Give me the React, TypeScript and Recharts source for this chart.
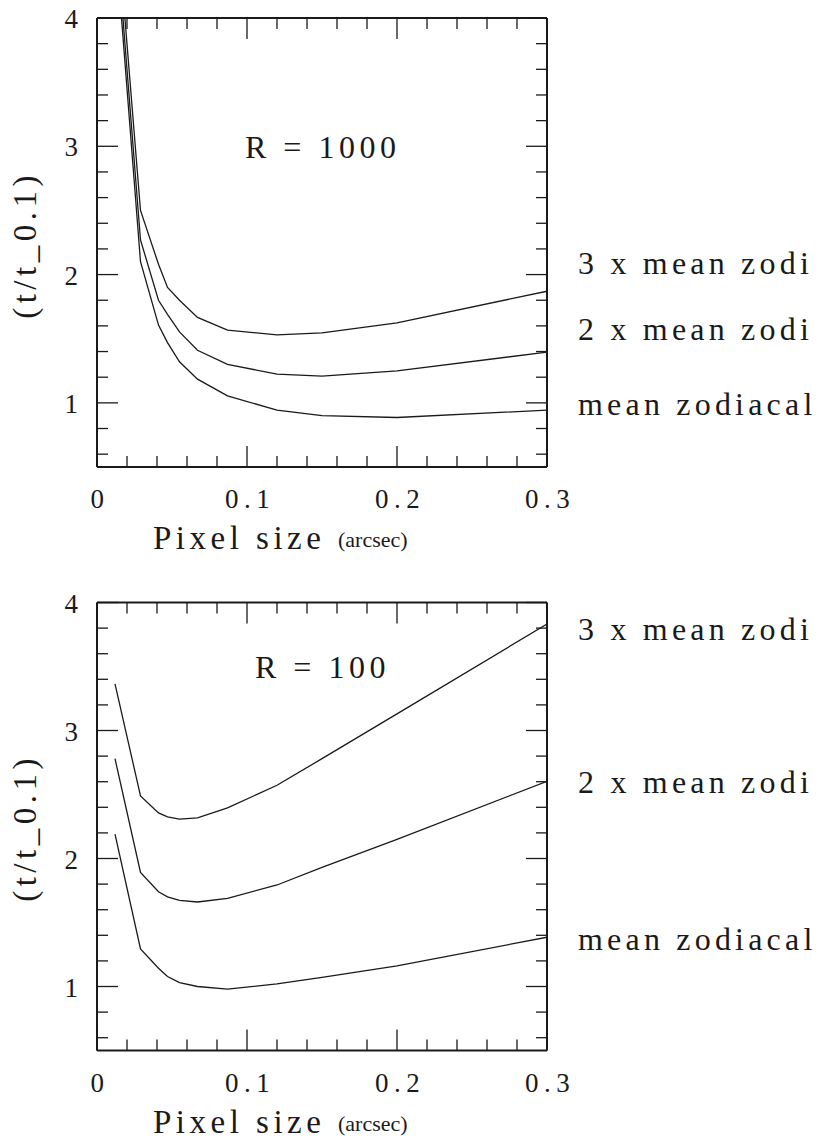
import React from "react";
import { LineChart, Line, XAxis, YAxis } from "recharts";

// pixel sizes (arcsec) where the curves were computed
const pixelSize = [0.012, 0.029, 0.041, 0.047, 0.055, 0.067, 0.087, 0.12, 0.15, 0.2, 0.3];

// R = 1000
const r1000Zodi3 = [4.95, 2.5, 2.08, 1.9, 1.8, 1.666, 1.567, 1.53, 1.545, 1.624, 1.87];
const r1000Zodi2 = [4.78, 2.27, 1.8, 1.69, 1.553, 1.41, 1.3, 1.224, 1.208, 1.25, 1.395];
const r1000Zodi1 = [4.65, 2.1, 1.606, 1.47, 1.32, 1.185, 1.055, 0.943, 0.9, 0.886, 0.943];

// R = 100
const r100Zodi3 = [3.365, 2.489, 2.356, 2.325, 2.307, 2.317, 2.395, 2.572, 2.78, 3.13, 3.832];
const r100Zodi2 = [2.78, 1.892, 1.74, 1.7, 1.673, 1.66, 1.689, 1.793, 1.93, 2.15, 2.603];
const r100Zodi1 = [2.19, 1.294, 1.143, 1.078, 1.031, 1.0, 0.98, 1.02, 1.072, 1.161, 1.385];

const seriesLabels = ["3 x mean zodi", "2 x mean zodi", "mean zodiacal"];

const xMajorTicks = [0, 0.1, 0.2, 0.3];
const xMajorLabels = ["0", "0.1", "0.2", "0.3"];
const xMinorTicks = [0.02, 0.04, 0.06, 0.08, 0.12, 0.14, 0.16, 0.18, 0.22, 0.24, 0.26, 0.28];
const yMajorTicks = [1, 2, 3, 4];
const yMajorLabels = ["1", "2", "3", "4"];
const yMinorTicks = [0.6, 0.8, 1.2, 1.4, 1.6, 1.8, 2.2, 2.4, 2.6, 2.8, 3.2, 3.4, 3.6, 3.8];

const xTicks = [...xMajorTicks, ...xMinorTicks].sort((a, b) => a - b);
const yTicks = [...yMajorTicks, ...yMinorTicks].sort((a, b) => a - b);

const FONT = "'Liberation Serif', 'Times New Roman', serif";
const INK = "#1a1a1a";
const W = 826;
const H = 570;
const PLOT_LEFT = 97;
const PLOT_RIGHT = 547;
const MAJOR = 21;
const MINOR = 11;

const majorIndex = (list: number[], v: number) => list.findIndex((m) => Math.abs(m - v) < 1e-6);

const BottomTick = (props: any) => {
  const { x, y, payload } = props;
  const i = majorIndex(xMajorTicks, payload.value);
  return (
    <g>
      <line x1={x} x2={x} y1={y} y2={y - (i >= 0 ? MAJOR : MINOR)} stroke={INK} strokeWidth={1.3} />
      {i >= 0 && (
        <text x={x + 3} y={y + 41} textAnchor="middle" fontFamily={FONT} fontSize={27} letterSpacing={5.5} fill={INK}>
          {xMajorLabels[i]}
        </text>
      )}
    </g>
  );
};

const TopTick = (props: any) => {
  const { x, y, payload } = props;
  const i = majorIndex(xMajorTicks, payload.value);
  return <line x1={x} x2={x} y1={y} y2={y + (i >= 0 ? MAJOR : MINOR)} stroke={INK} strokeWidth={1.3} />;
};

const LeftTick = (props: any) => {
  const { x, y, payload } = props;
  const i = majorIndex(yMajorTicks, payload.value);
  return (
    <g>
      <line x1={x} x2={x + (i >= 0 ? MAJOR : MINOR)} y1={y} y2={y} stroke={INK} strokeWidth={1.3} />
      {i >= 0 && (
        <text x={x - 19} y={y + 10} textAnchor="end" fontFamily={FONT} fontSize={27} fill={INK}>
          {yMajorLabels[i]}
        </text>
      )}
    </g>
  );
};

const RightTick = (props: any) => {
  const { x, y, payload } = props;
  const i = majorIndex(yMajorTicks, payload.value);
  return <line x1={x} x2={x - (i >= 0 ? MAJOR : MINOR)} y1={y} y2={y} stroke={INK} strokeWidth={1.3} />;
};

interface PanelProps {
  top: number;
  plotTop: number;
  plotBottom: number;
  z3: number[];
  z2: number[];
  z1: number[];
}

const Panel = ({ top, plotTop, plotBottom, z3, z2, z1 }: PanelProps) => {
  const data = pixelSize.map((x, i) => ({ x, z3: z3[i], z2: z2[i], z1: z1[i] }));
  const axisLine = { stroke: INK, strokeWidth: 2 };
  return (
    <div style={{ position: "absolute", left: 0, top, width: W, height: H }}>
      <LineChart
        width={W}
        height={H}
        data={data}
        margin={{ top: plotTop - 1, left: PLOT_LEFT - 60, right: W - PLOT_RIGHT - 1, bottom: H - plotBottom - 60 }}
      >
        <XAxis
          dataKey="x" type="number" domain={[0, 0.3]} allowDataOverflow ticks={xTicks} interval={0}
          height={60} tickSize={0} tickMargin={0} tickLine={false} axisLine={axisLine} tick={<BottomTick />}
        />
        <XAxis
          xAxisId="top" orientation="top" dataKey="x" type="number" domain={[0, 0.3]} allowDataOverflow
          ticks={xTicks} interval={0} height={1} tickSize={0} tickMargin={0} tickLine={false}
          axisLine={axisLine} tick={<TopTick />}
        />
        <YAxis
          type="number" domain={[0.5, 4]} allowDataOverflow ticks={yTicks} interval={0} width={60}
          tickSize={0} tickMargin={0} tickLine={false} axisLine={axisLine} tick={<LeftTick />}
        />
        <YAxis
          yAxisId="right" orientation="right" type="number" domain={[0.5, 4]} allowDataOverflow ticks={yTicks}
          interval={0} width={1} tickSize={0} tickMargin={0} tickLine={false} axisLine={axisLine} tick={<RightTick />}
        />
        <Line type="linear" dataKey="z3" stroke={INK} strokeWidth={1.3} dot={false} isAnimationActive={false} />
        <Line type="linear" dataKey="z2" stroke={INK} strokeWidth={1.3} dot={false} isAnimationActive={false} />
        <Line type="linear" dataKey="z1" stroke={INK} strokeWidth={1.3} dot={false} isAnimationActive={false} />
      </LineChart>
    </div>
  );
};

const big = { fontFamily: FONT, fontSize: 33, letterSpacing: 4.5, fill: INK };
const side = { fontFamily: FONT, fontSize: 32, letterSpacing: 4.2, fill: INK };

export default function App() {
  return (
    <div style={{ position: "absolute", left: 0, top: 0, width: W, height: 1140, background: "#fff", overflow: "hidden" }}>
      <Panel top={0} plotTop={18} plotBottom={467} z3={r1000Zodi3} z2={r1000Zodi2} z1={r1000Zodi1} />
      <Panel top={570} plotTop={32.5} plotBottom={480.5} z3={r100Zodi3} z2={r100Zodi2} z1={r100Zodi1} />
      <svg width={W} height={1140} style={{ position: "absolute", left: 0, top: 0, pointerEvents: "none" }}>
        {/* top panel */}
        <text x={245} y={158} {...big} fontSize={32}>R = 1000</text>
        <text x={578} y={274} {...side}>{seriesLabels[0]}</text>
        <text x={578} y={340} {...side}>{seriesLabels[1]}</text>
        <text x={578} y={415} {...side}>{seriesLabels[2]}</text>
        <text x={153} y={549} {...big}>Pixel size</text>
        <text x={338} y={547} fontFamily={FONT} fontSize={22} fill={INK}>(arcsec)</text>
        <text transform="translate(36,245) rotate(-90)" textAnchor="middle" {...big}>(t/t_0.1)</text>

        {/* bottom panel */}
        <text x={255} y={678} {...big} fontSize={32}>R = 100</text>
        <text x={578} y={640} {...side}>{seriesLabels[0]}</text>
        <text x={578} y={793} {...side}>{seriesLabels[1]}</text>
        <text x={578} y={950} {...side}>{seriesLabels[2]}</text>
        <text x={153} y={1133} {...big}>Pixel size</text>
        <text x={338} y={1131} fontFamily={FONT} fontSize={22} fill={INK}>(arcsec)</text>
        <text transform="translate(36,828) rotate(-90)" textAnchor="middle" {...big}>(t/t_0.1)</text>
      </svg>
    </div>
  );
}
